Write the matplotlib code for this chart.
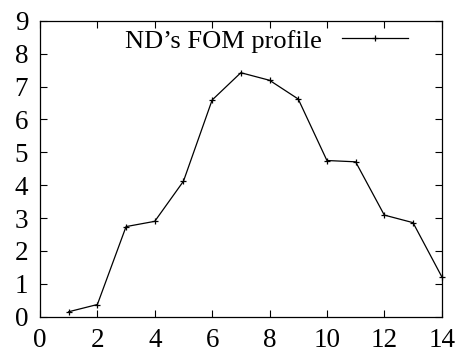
import matplotlib
matplotlib.use("Agg")
import matplotlib.pyplot as plt

plt.rcParams['font.family'] = ['Liberation Serif', 'DejaVu Serif']

# FOM values per position
x_vals = [1, 2, 3, 4, 5, 6, 7, 8, 9, 10, 11, 12, 13, 14]
fom = [0.15, 0.37, 2.74, 2.90, 4.12, 6.59, 7.42, 7.19, 6.62, 4.75, 4.71, 3.09, 2.86, 1.22]
x_ticks = [0, 2, 4, 6, 8, 10, 12, 14]
y_ticks = [0, 1, 2, 3, 4, 5, 6, 7, 8, 9]

fig = plt.figure(figsize=(4.58, 3.58), dpi=100)
ax = fig.add_axes([0.0873, 0.1154, 0.8771, 0.8266])

ax.plot(x_vals, fom, color='black', linewidth=0.9, marker='+', markersize=5,
        markeredgewidth=0.9, label="ND\u2019s FOM profile", clip_on=False)

ax.set_xlim(0, 14)
ax.set_ylim(0, 9)
ax.set_xticks(x_ticks)
ax.set_yticks(y_ticks)
ax.tick_params(direction='in', top=True, right=True, length=5, width=0.8,
               labelsize=19.5)
ax.tick_params(axis='y', pad=8.5)
ax.tick_params(axis='x', pad=8)
for s in ax.spines.values():
    s.set_linewidth(0.9)

ax.legend(loc='upper right', frameon=False, markerfirst=False, fontsize=19,
          handlelength=2.5, handletextpad=0.75, borderpad=0, borderaxespad=0,
          bbox_to_anchor=(0.916, 0.972))

fig.savefig('out.png', dpi=100)
